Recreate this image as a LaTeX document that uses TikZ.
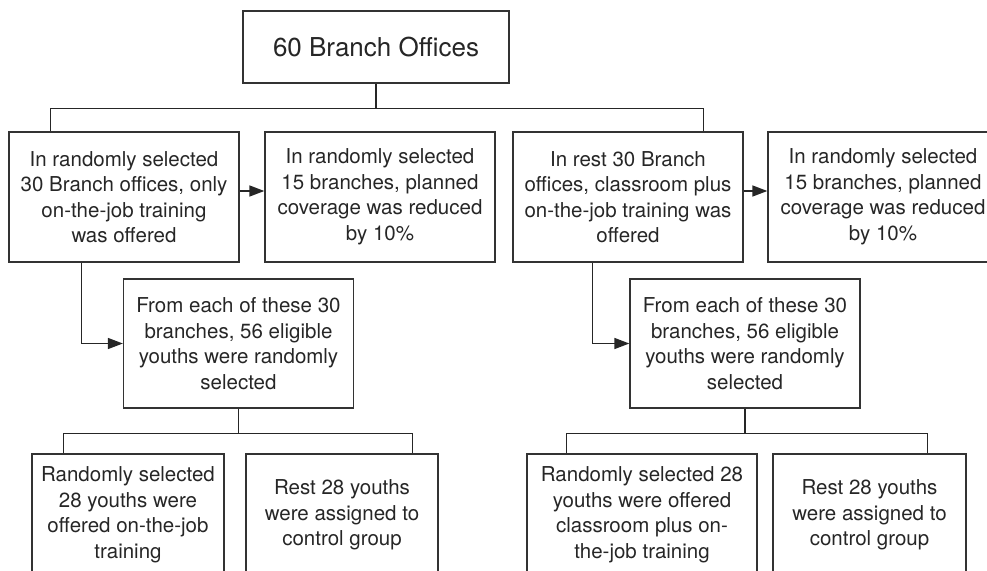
\documentclass[tikz,border=0pt]{standalone}
\usepackage{fontspec}
\setmainfont{TeX Gyre Heros}
\usetikzlibrary{arrows.meta}
\tikzset{
    every node/.style={rectangle, draw=black!80, line width=1.3pt, text=black!85, align=center, inner sep=0mm, font=\fontsize{20.5}{25.5}\selectfont}
}
\tikzset{wide/.style={minimum width=230pt, minimum height=130pt}}
\tikzset{narrow/.style={minimum width=192pt, minimum height=122pt}}
\tikzset{wire/.style={draw=black!85, line width=1.5pt}}
\tikzset{wirehead/.style={wire, -{Triangle[length=15pt, width=11pt]}}}

\begin{document}
\begin{tikzpicture}[x=1pt, y=-1pt]
        \path[use as bounding box, clip] (0,0) rectangle (987,570);
        \node (b0) [minimum width=266pt, minimum height=72pt, font=\fontsize{26}{30}\selectfont] at (376, 47) {60 Branch Offices};
        \node (b1) [wide] at (124, 197) {In randomly selected\\30 Branch offices, only\\on-the-job training\\was offered};
        \node (b2) [wide] at (380, 197) {In randomly selected\\15 branches, planned\\coverage was reduced\\by 10\%};
        \node (b3) [wide] at (628, 197) {In rest 30 Branch\\offices, classroom plus\\on-the-job training was\\offered};
        \node (b4) [wide] at (883, 197) {In randomly selected\\15 branches, planned\\coverage was reduced\\by 10\%};
        \node (b5) [wide, minimum height=129pt] at (238.5, 343.5) {From each of these 30\\branches, 56 eligible\\youths were randomly\\selected};
        \node (b6) [wide, minimum height=129pt] at (745, 343.5) {From each of these 30\\branches, 56 eligible\\youths were randomly\\selected};
        \node (b7) [narrow] at (128, 515) {Randomly selected\\28 youths were\\offered on-the-job\\training};
        \node (b8) [narrow] at (342, 515) {Rest 28 youths\\were assigned to\\control group};
        \node (b9) [narrow, minimum width=230pt] at (642, 515) {Randomly selected 28\\youths were offered\\classroom plus on-\\the-job training};
        \node (b10) [narrow, minimum width=193pt] at (869.5, 515) {Rest 28 youths\\were assigned to\\control group};
        \draw [wire] (b0.south) -- ++(0,25) -| ([xshift=42pt]b1.north west);
        \draw [wire] (b0.south) ++(0,25) -| ([xshift=-40pt]b3.north east);
        \draw [wirehead] ([yshift=6pt]b1.east) -- ([yshift=6pt]b2.west);
        \draw [wirehead] ([yshift=6pt]b3.east) -- ([yshift=6pt]b4.west);
        \draw [wirehead] ([xshift=73pt]b1.south west) |- (b5.west);
        \draw [wirehead] ([xshift=80pt]b3.south west) |- (b6.west);
        \draw [wire] (b5.south) -- ++(0,25) -| ([xshift=32pt]b7.north west);
        \draw [wire] (b5.south) ++(0,25) -| ([xshift=-26pt]b8.north east);
        \draw [wire] (b6.south) -- ++(0,25) -| ([xshift=40pt]b9.north west);
        \draw [wire] (b6.south) ++(0,25) -| ([xshift=-39pt]b10.north east);
\end{tikzpicture}
\end{document}
